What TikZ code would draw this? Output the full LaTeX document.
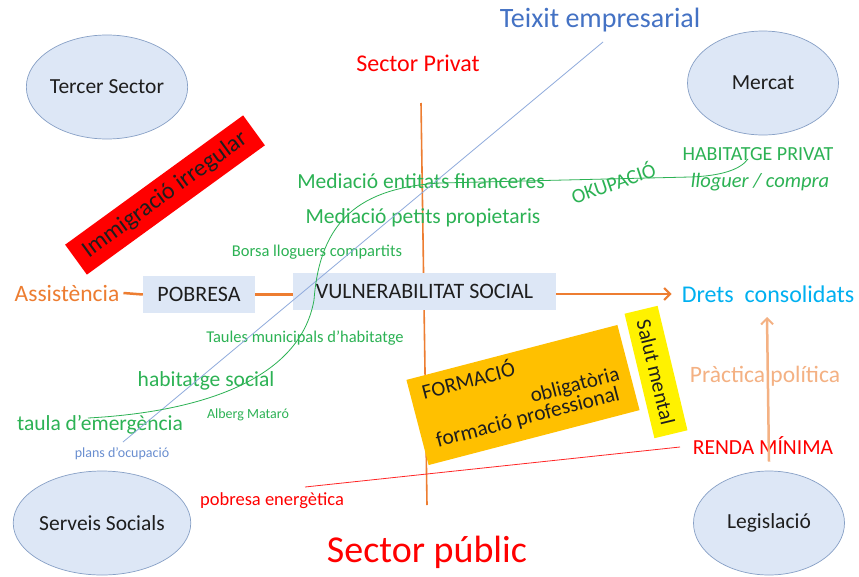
\documentclass[tikz,border=0pt]{standalone}
\usepackage{fontspec}
\setmainfont{Carlito}
\usetikzlibrary{arrows.meta,shapes.geometric}
\definecolor{ellfill}{RGB}{221,231,246}
\definecolor{elldraw}{RGB}{135,160,198}
\definecolor{orng}{RGB}{237,125,49}
\definecolor{lorng}{RGB}{244,177,131}
\definecolor{grn}{RGB}{44,178,84}
\definecolor{tblue}{RGB}{68,114,196}
\definecolor{lblue}{RGB}{143,170,220}
\definecolor{cyn}{RGB}{0,176,240}
\definecolor{gold}{RGB}{255,192,0}
\definecolor{dtext}{RGB}{30,30,30}
\newcommand\fsz[1]{\fontsize{#1}{#1}\selectfont}
\begin{document}
\begin{tikzpicture}[x=1pt,y=-1pt,
  ell/.style={ellipse,draw=elldraw,line width=0.7pt,fill=ellfill,minimum width=151pt,minimum height=104pt,inner sep=0pt,text=dtext,font=\fsz{21.5}},
  box/.style={fill=ellfill,inner sep=0pt,text=dtext,font=\fsz{22}},
  txt/.style={inner sep=0pt},
  gtxt/.style={text=grn,inner sep=0pt},
  orline/.style={draw=orng,line width=2.5pt},
  orarrow/.style={draw=orng,line width=2.5pt,-{Straight Barb[length=6pt,width=12pt,line width=2pt]}},
  lorarrow/.style={draw=lorng,line width=2.5pt,-{Straight Barb[length=6pt,width=12pt,line width=2pt]}}]
\useasboundingbox (0,0) rectangle (859,576);
\fill[white] (0,0) rectangle (859,576);
% axis lines (behind)
\coordinate (vtop) at (421,103);
\coordinate (vbot) at (427,505);
\draw[orng,line width=1.6pt] (vtop) -- (vbot);
\coordinate (rl) at (305,487);
\coordinate (rr) at (680,447);
\draw[red!85,line width=0.8pt] (rl) -- (rr);
% ellipses
\node[ell] (ts) at (107,87) {Tercer Sector};
\node[ell] (merc) at (763,83) {Mercat};
\node[ell] (ss) at (102,523) {Serveis Socials};
\node[ell] (leg) at (769,523) {Legislació};
% headings
\node[txt,text=tblue,font=\fsz{28}] (teix) at (600,20) {Teixit empresarial};
\node[txt,text=red,font=\fsz{24}] (spriv) at (418,63) {Sector Privat};
\node[txt,text=red,font=\fsz{38}] (spub) at (427,552) {Sector públic};
% red rotated box
\node[fill=red,rotate=36,minimum width=220pt,minimum height=37pt,inner sep=0pt,text=dtext,font=\fsz{24}] (imm) at (165,195) {Immigració irregular};
% boxes
\node[box,minimum width=112pt,minimum height=37pt] (pob) at (199,294.5) {POBRESA};
\node[box,minimum width=263pt,minimum height=37pt] (vs) at (424.5,291.5) {VULNERABILITAT SOCIAL};
\node[txt,text=orng,font=\fsz{23.5},inner sep=4pt] (asis) at (67,293) {Assistència};
\node[txt,text=cyn,font=\fsz{24},inner sep=10pt] (drets) at (768,294) {Drets\ \ consolidats};
\node[txt,text=lorng,font=\fsz{23.5}] (prac) at (765,376) {Pràctica política};
\node[txt,text=red,font=\fsz{21.5}] (renda) at (763,446) {RENDA MÍNIMA};
\node[txt,text=red,font=\fsz{18.5}] (pobe) at (272,501) {pobresa energètica};
% formacio box
\node[fill=gold,rotate=14.6,minimum width=218pt,minimum height=88pt,inner sep=0pt] (form) at (523,395) {};
\node[txt,rotate=14.6,text=dtext,font=\fsz{21}] (f1) at (468,379) {FORMACIÓ};
\node[txt,rotate=14.6,text=dtext,font=\fsz{21}] (f2) at (575,386) {obligatòria};
\node[txt,rotate=14.6,text=dtext,font=\fsz{21.5}] (f3) at (528,418) {formació professional};
\node[fill=yellow,rotate=-76.5,minimum width=128pt,minimum height=34pt,inner sep=0pt,text=dtext,font=\fsz{21}] (sm) at (656,372) {Salut mental};
% green texts
\node[gtxt,font=\fsz{21.5}] (med1) at (421,181) {Mediació entitats financeres};
\node[gtxt,font=\fsz{21.5}] (med2) at (423,218) {Mediació petits propietaris};
\node[gtxt,font=\fsz{16.5}] (borsa) at (317,252) {Borsa lloguers compartits};
\node[gtxt,font=\fsz{16.5}] (taules) at (305,338) {Taules municipals d’habitatge};
\node[gtxt,font=\fsz{21.5}] (hsoc) at (206,381) {habitatge social};
\node[gtxt,font=\fsz{14}] (alb) at (248,415) {Alberg Mataró};
\node[gtxt,font=\fsz{21.5}] (taula) at (100,425) {taula d’emergència};
\node[txt,text=tblue!80,font=\fsz{14}] (plans) at (122,454) {plans d’ocupació};
\node[gtxt,font=\fsz{20}] (hpriv) at (758,154) {HABITATGE PRIVAT};
\node[gtxt,font=\fsz{20.5}\itshape] (llog) at (760,182) {lloguer / compra};
\node[gtxt,rotate=18.8,font=\fsz{20.5}] (okup) at (613,182) {OKUPACIÓ};
% thin lines over
\coordinate (bl1) at (603,42);
\coordinate (bl2) at (123,442);
\draw[lblue,line width=0.8pt] (bl1) -- (bl2);
\coordinate (g0) at (88,418);
\coordinate (g1) at (314,300);
\coordinate (g2) at (440,183);
\coordinate (g3) at (690,177);
\coordinate (g4) at (748,159);
\draw[grn,line width=0.8pt] (g0) .. controls (200,412) and (300,380) .. (g1)
  .. controls (320,220) and (360,188) .. (g2) -- (g3)
  .. controls (720,176) and (740,170) .. (g4);
% connectors
\draw[orline] (asis.east) -- (pob.west);
\draw[orline] (pob.east) -- (pob.east -| vs.west);
\draw[orarrow] (vs.east |- drets.west) -- (drets.west);
\coordinate (ptip) at (767,317);
\draw[lorarrow] ([yshift=9pt]leg.north) -- (ptip);
\end{tikzpicture}
\end{document}
